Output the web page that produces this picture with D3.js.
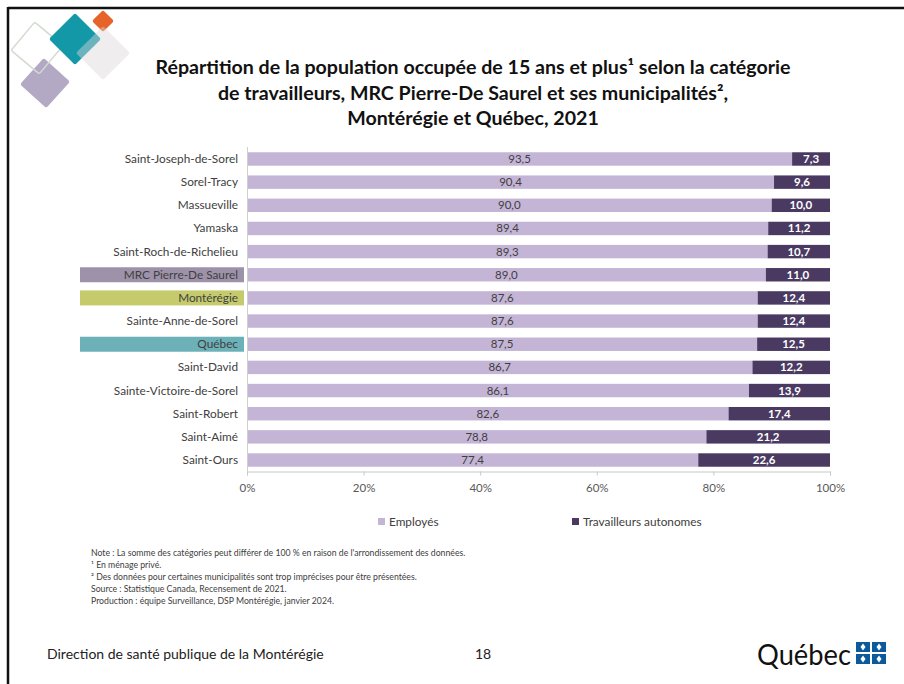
<!DOCTYPE html>
<html><head><meta charset="utf-8">
<script src="https://cdn.jsdelivr.net/npm/d3@7/dist/d3.min.js"></script>
<style>body{margin:0;background:#fff}svg{display:block}text{font-family:Lato,"Open Sans",sans-serif}</style>
</head><body>
<script>
const categories = ["Saint-Joseph-de-Sorel","Sorel-Tracy","Massueville","Yamaska","Saint-Roch-de-Richelieu","MRC Pierre-De Saurel","Montérégie","Sainte-Anne-de-Sorel","Québec","Saint-David","Sainte-Victoire-de-Sorel","Saint-Robert","Saint-Aimé","Saint-Ours"];
const employes = [93.5,90.4,90.0,89.4,89.3,89.0,87.6,87.6,87.5,86.7,86.1,82.6,78.8,77.4];
const autonomes = [7.3,9.6,10.0,11.2,10.7,11.0,12.4,12.4,12.5,12.2,13.9,17.4,21.2,22.6];
const seriesNames = ["Employés","Travailleurs autonomes"];
const xTicks = [0,20,40,60,80,100];
const highlights = {"MRC Pierre-De Saurel":"#9d92a9","Montérégie":"#c5cb6c","Québec":"#6cb0b8"};
const titleLines = ["Répartition de la population occupée de 15 ans et plus¹ selon la catégorie","de travailleurs, MRC Pierre-De Saurel et ses municipalités²,","Montérégie et Québec, 2021"];
const notes = ["Note : La somme des catégories peut différer de 100 % en raison de l'arrondissement des données.","¹ En ménage privé.","² Des données pour certaines municipalités sont trop imprécises pour être présentées.","Source : Statistique Canada, Recensement de 2021.","Production : équipe Surveillance, DSP Montérégie, janvier 2024."];

const W=904,H=684;
const svg=d3.select("body").append("svg").attr("width",W).attr("height",H);
const colE="#c4b5d6", colA="#4a3a62";

// slide border
svg.append("line").attr("x1",8).attr("x2",W).attr("y1",8).attr("y2",8).attr("stroke","#111").attr("stroke-width",2.5);
svg.append("line").attr("x1",8).attr("x2",8).attr("y1",7).attr("y2",H).attr("stroke","#111").attr("stroke-width",2.5);

// decorative logo
const logo=svg.append("g");
function diamond(cx,cy,r,rot,fill,opts={}){
  const s=r*Math.SQRT2;
  const g=logo.append("rect").attr("x",-s/2).attr("y",-s/2).attr("width",s).attr("height",s).attr("rx",2)
   .attr("transform",`translate(${cx},${cy}) rotate(${45+rot})`).attr("fill",fill);
  if(opts.stroke) g.attr("stroke",opts.stroke).attr("stroke-width",opts.sw||1.5);
  if(opts.op!=null) g.attr("fill-opacity",opts.op);
  return g;
}
diamond(45,83,25,-3,"#b3a9c5");
diamond(37,48,26,-5,"none",{stroke:"#d3dbcf",sw:1.5});
diamond(75,39,26,0,"#1298a6");
diamond(103,21,11,0,"#e6632a");
diamond(103,53,27,0,"#dcd7d9",{op:0.45});

// title
const title=svg.append("g");
titleLines.forEach((t,i)=>{
  title.append("text").attr("x",473).attr("y",74+i*25.5).attr("text-anchor","middle")
   .attr("font-weight",700).attr("font-size",19.6).attr("fill","#111").text(t);
});

// scales
const x=d3.scaleLinear().domain([0,100]).range([247,830]);
const y=d3.scaleBand().domain(categories).range([147.4,471.6]).paddingInner(0.42).paddingOuter(0.21);
const fmt=v=>d3.format(".1f")(v).replace(".",",");

// highlight boxes
categories.forEach(c=>{
  if(highlights[c]){
    svg.append("rect").attr("x",80).attr("width",164).attr("y",y(c)+y.bandwidth()/2-7.5).attr("height",15).attr("fill",highlights[c]);
  }
});

// bars
const rows=svg.append("g").selectAll("g").data(categories).join("g");
rows.append("rect").attr("x",x(0)).attr("y",c=>y(c)).attr("height",y.bandwidth())
  .attr("width",(c,i)=>x(employes[i])-x(0)).attr("fill",colE);
rows.append("rect").attr("x",(c,i)=>x(employes[i])).attr("y",c=>y(c)).attr("height",y.bandwidth())
  .attr("width",(c,i)=>x(100)-x(employes[i])).attr("fill",colA);
rows.append("text").attr("x",(c,i)=>(x(0)+x(employes[i]))/2).attr("y",c=>y(c)+y.bandwidth()/2+4)
  .attr("text-anchor","middle").attr("font-size",11.5).attr("fill","#404040").text((c,i)=>fmt(employes[i]));
rows.append("text").attr("x",(c,i)=>(x(employes[i])+x(100))/2).attr("y",c=>y(c)+y.bandwidth()/2+4)
  .attr("text-anchor","middle").attr("font-size",11.5).attr("font-weight",700).attr("fill","#fff").text((c,i)=>fmt(autonomes[i]));

// category labels
svg.append("g").selectAll("text").data(categories).join("text")
  .attr("x",238).attr("y",c=>y(c)+y.bandwidth()/2+4).attr("text-anchor","end")
  .attr("font-size",11.8).attr("fill","#404040").text(c=>c);

// y axis line
svg.append("line").attr("x1",247.5).attr("x2",247.5).attr("y1",147).attr("y2",472).attr("stroke","#d0d0d0");

// x axis
const xa=svg.append("g").attr("transform","translate(0,471.5)")
  .call(d3.axisBottom(x).tickValues(xTicks).tickFormat(d=>d+"%").tickSize(4).tickPadding(8));
xa.select(".domain").attr("stroke","#c8c8c8");
xa.selectAll(".tick line").attr("stroke","#c8c8c8");
xa.selectAll(".tick text").attr("font-size",11.5).attr("fill","#595959").attr("font-family","Lato,sans-serif");

// legend
const leg=[{n:seriesNames[0],c:colE,x:378},{n:seriesNames[1],c:colA,x:572}];
const lg=svg.append("g").selectAll("g").data(leg).join("g");
lg.append("rect").attr("x",d=>d.x).attr("y",518).attr("width",7).attr("height",7).attr("fill",d=>d.c);
lg.append("text").attr("x",d=>d.x+11).attr("y",525.5).attr("font-size",11.8).attr("fill","#404040").text(d=>d.n);

// notes
svg.append("g").selectAll("text").data(notes).join("text")
  .attr("x",91).attr("y",(d,i)=>556+i*12).attr("font-size",8.7).attr("fill","#404040").text(d=>d);

// footer
svg.append("text").attr("x",47).attr("y",659).attr("font-size",14).attr("fill","#222").text("Direction de santé publique de la Montérégie");
svg.append("text").attr("x",475).attr("y",659).attr("font-size",14).attr("fill","#222").text("18");

// Québec logo
svg.append("text").attr("x",757).attr("y",665).attr("font-size",28).attr("fill","#111")
  .attr("font-family","'Open Sans',sans-serif").attr("textLength",94).attr("lengthAdjust","spacingAndGlyphs").text("Québec");
const fl=svg.append("g").attr("transform","translate(856,642)");
[[0,0],[16,0],[0,12],[16,12]].forEach(([dx,dy])=>{
  fl.append("rect").attr("x",dx).attr("y",dy).attr("width",14).attr("height",10).attr("fill","#0b5a9c");
  fl.append("path").attr("d",`M${dx+7},${dy+1.5} L${dx+9.5},${dy+5} L${dx+7},${dy+8.5} L${dx+4.5},${dy+5} Z`).attr("fill","#fff");
});
</script>
</body></html>
